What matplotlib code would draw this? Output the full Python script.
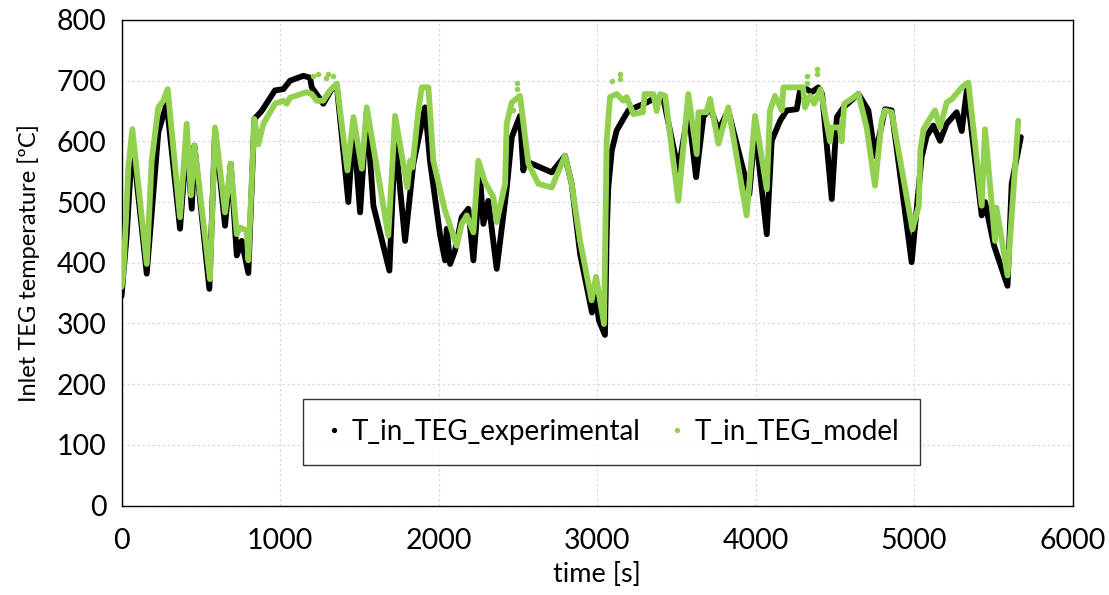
import matplotlib
matplotlib.use("Agg")
import matplotlib.pyplot as plt
from matplotlib.lines import Line2D

# experimental inlet temperature (time s, value ºC)
exp_t = [0, 33, 68, 159, 232, 253, 285, 369, 411, 443, 460, 554, 590, 653, 689,
         727, 758, 800, 838, 884, 968, 1021, 1063, 1147, 1189, 1200, 1273, 1326,
         1358, 1431, 1463, 1505, 1547, 1589, 1690, 1726, 1789, 1841, 1915, 1946,
         2009, 2041, 2052, 2073, 2104, 2146, 2188, 2220, 2262, 2283, 2314, 2367,
         2430, 2462, 2514, 2535, 2546, 2714, 2798, 2840, 2893, 2968, 2987, 3012,
         3050, 3061, 3071, 3093, 3124, 3166, 3198, 3313, 3355, 3418, 3513, 3576,
         3625, 3671, 3713, 3766, 3828, 3881, 3961, 3997, 4071, 4102, 4155, 4197,
         4260, 4281, 4323, 4354, 4396, 4420, 4481, 4513, 4555, 4649, 4712, 4754,
         4817, 4859, 4985, 5048, 5080, 5122, 5164, 5206, 5269, 5301, 5333, 5427,
         5448, 5505, 5590, 5616, 5674]
exp_v = [345, 447, 601, 382, 615, 634, 662, 456, 601, 489, 593, 357, 618, 461, 563,
         412, 436, 383, 637, 650, 684, 686, 700, 708, 705, 689, 662, 686,
         692, 500, 625, 483, 648, 494, 387, 607, 436, 563, 656, 568,
         447, 404, 456, 398, 420, 475, 489, 404, 541, 464, 502, 390,
         522, 607, 642, 552, 568, 549, 576, 530, 415, 318, 352, 305,
         281, 447, 524, 585, 618, 637, 651, 664, 670, 671, 552, 651,
         541, 640, 656, 618, 651, 596, 513, 623, 447, 601, 634, 651,
         653, 684, 686, 681, 689, 678, 505, 640, 656, 678, 651, 576,
         653, 651, 401, 574, 609, 626, 601, 629, 648, 617, 684, 478,
         500, 428, 362, 530, 607]

# model inlet temperature
mod_t = [0, 12, 43, 68, 159, 190, 232, 264, 291, 369, 411, 438, 460, 558, 590,
         653, 689, 727, 748, 790, 800, 838, 863, 895, 968, 1021, 1042, 1063,
         1168, 1200, 1231, 1273, 1315, 1358, 1425, 1463, 1516, 1547, 1683, 1726,
         1803, 1820, 1835, 1873, 1894, 1936, 1967, 2041, 2115, 2146, 2178, 2220,
         2251, 2293, 2346, 2367, 2420, 2430, 2462, 2514, 2567, 2630, 2714, 2798,
         2840, 2893, 2966, 2994, 3044, 3061, 3082, 3124, 3166, 3187, 3229, 3290,
         3300, 3355, 3376, 3398, 3430, 3513, 3576, 3629, 3640, 3690, 3713, 3766,
         3828, 3944, 3997, 4071, 4091, 4123, 4165, 4176, 4300, 4312, 4345, 4370,
         4410, 4470, 4481, 4530, 4544, 4560, 4649, 4701, 4754, 4796, 4817, 4859,
         4990, 5030, 5040, 5060, 5080, 5132, 5164, 5206, 5240, 5301, 5343, 5427,
         5448, 5511, 5520, 5590, 5658]
mod_v = [360, 382, 557, 620, 398, 568, 656, 667, 686, 475, 629, 511, 593, 373, 623,
         483, 563, 447, 458, 453, 404, 637, 595, 629, 662, 667, 662, 672,
         681, 678, 667, 667, 684, 695, 552, 640, 555, 656, 445, 642,
         524, 568, 557, 651, 689, 689, 568, 486, 428, 464, 478, 450,
         568, 533, 508, 467, 530, 629, 664, 675, 563, 530, 524, 576,
         530, 436, 338, 377, 299, 601, 673, 678, 667, 673, 645, 648,
         678, 678, 650, 678, 675, 502, 678, 579, 648, 648, 670, 596,
         656, 478, 642, 521, 651, 675, 651, 689, 689, 656, 675, 662,
         686, 600, 623, 623, 600, 662, 678, 623, 527, 634, 651, 648,
         455, 494, 585, 620, 629, 651, 623, 664, 670, 689, 697, 494,
         620, 436, 491, 379, 634]

# isolated model points above the curve
mod_out_t = [1210, 1242, 1290, 1305, 1336, 2470, 2493, 2493, 3093, 3145, 3145,
             4323, 4323, 4386, 4386]
mod_out_v = [708, 711, 705, 711, 708, 651, 697, 686, 700, 711, 703,
             708, 697, 719, 711]

GREEN = "#92D050"
plt.rcParams["font.family"] = ["Lato", "DejaVu Sans"]

fig = plt.figure(figsize=(11.09, 5.95), dpi=100)
ax = fig.add_axes([0.1096, 0.1504, 0.8575, 0.8160])

ax.plot(exp_t, exp_v, color="black", lw=4.2, solid_joinstyle="round",
        solid_capstyle="round", zorder=3)
ax.plot(mod_t, mod_v, color=GREEN, lw=4.2, solid_joinstyle="round",
        solid_capstyle="round", zorder=4)
ax.scatter(mod_out_t, mod_out_v, s=16, color=GREEN, zorder=4, linewidths=0)

ax.set_xlim(0, 6000)
ax.set_ylim(0, 800)
ax.set_xticks(range(0, 6001, 1000))
ax.set_yticks(range(0, 801, 100))
ax.grid(True, color="#D9D9D9", linestyle=(0, (2, 2)), linewidth=0.9)
ax.set_axisbelow(True)
ax.tick_params(axis="y", length=0, labelsize=20.5, pad=11, colors="black")
ax.tick_params(axis="x", length=0, labelsize=20.5, pad=16, colors="black")
for sp in ax.spines.values():
    sp.set_color("black")
    sp.set_linewidth(1.0)

ax.set_xlabel("time [s]", fontsize=19.5, labelpad=6)
ax.set_ylabel("Inlet TEG temperature [ºC]", fontsize=17, labelpad=12)

handles = [
    Line2D([], [], ls="none", marker="o", ms=2.8, color="black"),
    Line2D([], [], ls="none", marker="o", ms=2.8, color=GREEN),
]
leg = ax.legend(handles, ["T_in_TEG_experimental", "T_in_TEG_model"],
                loc="center", bbox_to_anchor=(0.515, 0.152), ncol=2,
                fontsize=20, frameon=True, fancybox=False, borderpad=0.72,
                handlelength=0.8, handletextpad=0.25, columnspacing=0.9,
                borderaxespad=0)
leg.get_frame().set_edgecolor("black")
leg.get_frame().set_linewidth(1.0)

fig.savefig("out.png", dpi=100)
